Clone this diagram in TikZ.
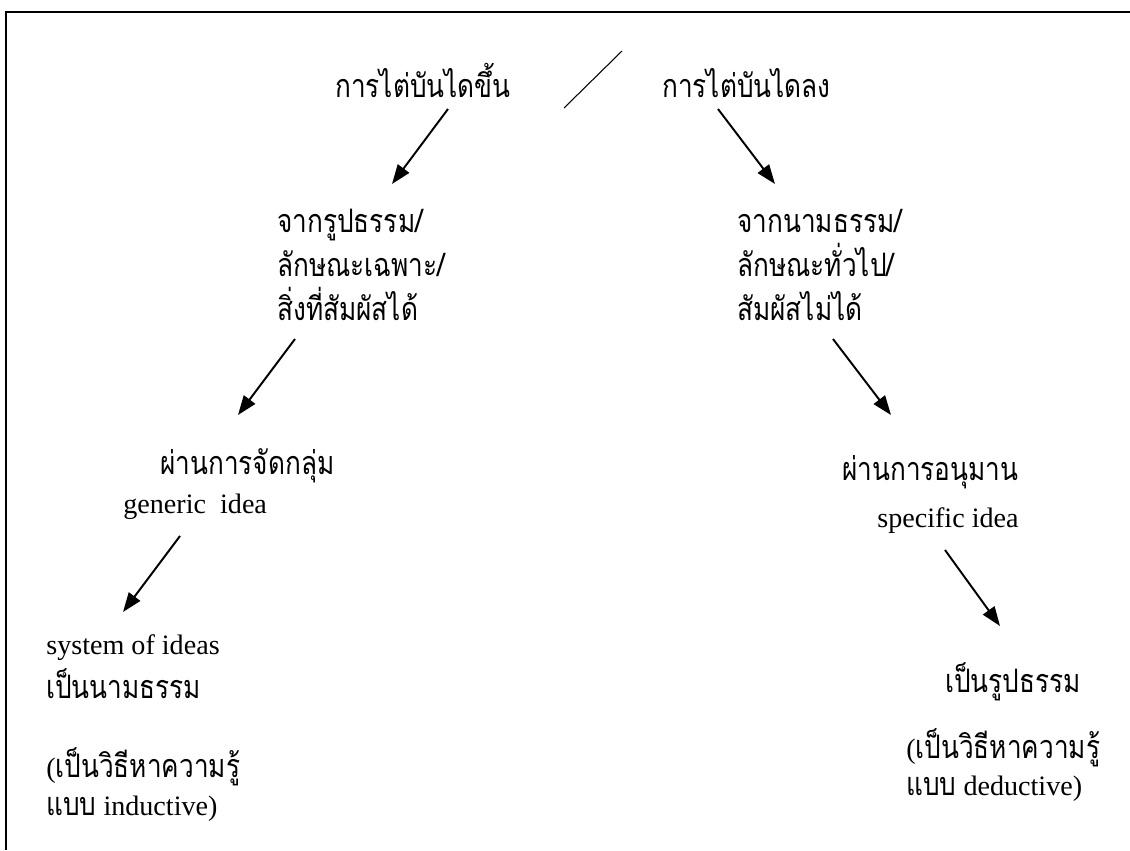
\documentclass[tikz,border=0pt]{standalone}
\usepackage{fontspec}
\setmainfont{Liberation Serif}
\newfontfamily\thaifont[Script=Thai, Scale=1.15, FakeStretch=0.81]{Loma}
\usetikzlibrary{calc, arrows.meta}
\newcommand{\tht}[1]{{\thaifont #1}}
\tikzstyle{txt} = [inner sep=0pt, anchor=base west, align=left]
\tikzstyle{thtxt} = [txt, font=\fontsize{16}{25}\selectfont\thaifont]
\tikzstyle{lattxt} = [txt, font=\fontsize{16}{25}\selectfont]
\tikzstyle{go} = [->, line width=1.1pt]

\begin{document}
\begin{tikzpicture}[x=0.02cm, y=-0.02cm, >={Triangle[length=11pt,width=8pt]}]
      \useasboundingbox (0,0) rectangle (1130,850);
      \draw[line width=0.8pt] (6,850) -- (6,12) -- (1130,12);
      \draw[line width=0.6pt] (622,51) -- (564,108);
      % top row
      \node [thtxt] (up) at (335,97) {การไต่บันไดขึ้น};
      \node [thtxt] (down) at (662,97) {การไต่บันไดลง};
      % second row (base = last line)
      \node [thtxt] (rupa) at (277,320) {จากรูปธรรม/\\ลักษณะเฉพาะ/\\สิ่งที่สัมผัสได้};
      \node [thtxt] (nama) at (737,320) {จากนามธรรม/\\ลักษณะทั่วไป/\\สัมผัสไม่ได้};
      % third row
      \node [thtxt] (group) at (160,474) {ผ่านการจัดกลุ่ม};
      \node [lattxt] (generic) at (123,513) {generic\ \ idea};
      \node [thtxt] (infer) at (842,480) {ผ่านการอนุมาน};
      \node [lattxt] (specific) at (877,527) {specific idea};
      % last row
      \node [lattxt, font=\fontsize{16}{25}\selectfont] (system) at (46,698) {system of ideas\\\tht{เป็นนามธรรม}};
      \node [lattxt, font=\fontsize{16}{21.6}\selectfont] (induct) at (46,815) {(\tht{เป็นวิธีหาความรู้}\\\tht{แบบ} inductive)};
      \node [thtxt] (concrete) at (945,692) {เป็นรูปธรรม};
      \node [lattxt, font=\fontsize{16}{21}\selectfont] (deduct) at (906,795) {(\tht{เป็นวิธีหาความรู้}\\\tht{แบบ} deductive)};
      % arrows
      \draw[go] ($(up.base west)+(113,12)$) -- ($(rupa.base west)+(115,-136)$);
      \draw[go] ($(down.base west)+(56,12)$) -- ($(nama.base west)+(38,-136)$);
      \draw[go] ($(rupa.base west)+(18,19)$) -- ($(group.base west)+(78,-59)$);
      \draw[go] ($(nama.base west)+(96,19)$) -- ($(infer.base west)+(49,-65)$);
      \draw[go] ($(generic.base west)+(57,23)$) -- ($(system.base west)+(77,-86)$);
      \draw[go] ($(specific.base west)+(68,23)$) -- ($(concrete.base west)+(55,-66)$);
\end{tikzpicture}
\end{document}
